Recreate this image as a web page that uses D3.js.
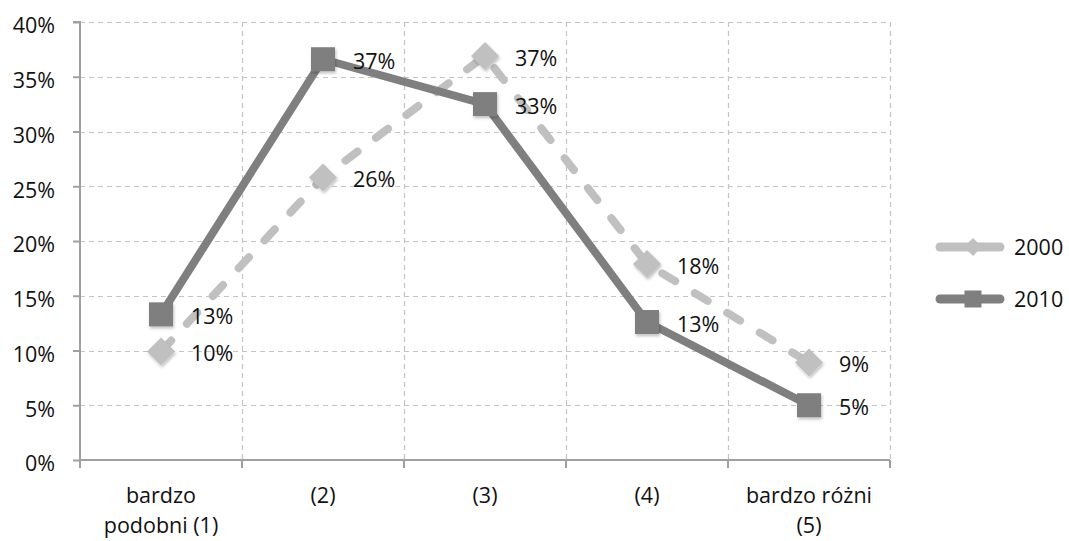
<!DOCTYPE html>
<html>
<head>
<meta charset="utf-8">
<script src="https://cdn.jsdelivr.net/npm/d3@7"></script>
<style>
  html, body { margin: 0; padding: 0; background: #fff; }
  svg { display: block; }
  text { font-family: "Open Sans", "Noto Sans", sans-serif; fill: #111; }
</style>
</head>
<body>
<svg id="chart" width="1069" height="541"></svg>
<script>
// Categories on the x axis (multi-line labels split by "\n")
const categories = ["bardzo\npodobni (1)", "(2)", "(3)", "(4)", "bardzo różni\n(5)"];
// Share of answers per category
const values2000 = [0.099, 0.258, 0.369, 0.179, 0.089];
const values2010 = [0.133, 0.366, 0.325, 0.126, 0.050];
const seriesNames = ["2000", "2010"];
const yTicks = [0, 0.05, 0.10, 0.15, 0.20, 0.25, 0.30, 0.35, 0.40];

const svg = d3.select("#chart");
const plot = { left: 80, right: 890, top: 22, bottom: 460 };
const fontSize = "21.5px";

const x = d3.scaleBand().domain(d3.range(categories.length))
  .range([plot.left, plot.right]).paddingInner(0).paddingOuter(0);
const y = d3.scaleLinear().domain([0, 0.40]).range([plot.bottom, plot.top]);
const pct = d3.format(".0%");

const defs = svg.append("defs");
const f = defs.append("filter").attr("id", "shadow")
  .attr("x", "-50%").attr("y", "-50%").attr("width", "200%").attr("height", "200%");
f.append("feDropShadow").attr("dx", 1).attr("dy", 2).attr("stdDeviation", 1.5)
  .attr("flood-color", "#000").attr("flood-opacity", 0.25);

// Horizontal dashed gridlines
svg.append("g").selectAll("line").data(yTicks.filter(d => d > 0)).join("line")
  .attr("x1", plot.left).attr("x2", plot.right)
  .attr("y1", d => Math.round(y(d)) + 0.5).attr("y2", d => Math.round(y(d)) + 0.5)
  .attr("stroke", "#c4c4c4").attr("stroke-width", 1.2).attr("stroke-dasharray", "5,4");

// Vertical dashed gridlines at category boundaries
const bounds = d3.range(1, categories.length + 1).map(i => plot.left + i * x.bandwidth());
svg.append("g").selectAll("line").data(bounds).join("line")
  .attr("x1", d => Math.round(d) + 0.5).attr("x2", d => Math.round(d) + 0.5)
  .attr("y1", plot.top).attr("y2", plot.bottom)
  .attr("stroke", "#c4c4c4").attr("stroke-width", 1.2).attr("stroke-dasharray", "5,4");

// Y axis
const yAxis = svg.append("g").attr("transform", `translate(${plot.left},0)`)
  .call(d3.axisLeft(y).tickValues(yTicks).tickFormat(pct).tickSize(7).tickPadding(18));
yAxis.select(".domain").attr("stroke", "#a0a0a0").attr("stroke-width", 2)
  .attr("d", `M-7,${plot.top}H0V${plot.bottom}`);
yAxis.selectAll(".tick line").attr("stroke", "#a0a0a0").attr("stroke-width", 2);
yAxis.selectAll(".tick text").style("font-size", fontSize).attr("fill", "#111")
  .attr("y", 3).attr("dy", "0.36em");

// X axis
const xAxisG = svg.append("g").attr("transform", `translate(0,${plot.bottom})`);
xAxisG.append("line").attr("x1", plot.left).attr("x2", plot.right).attr("y1", 0).attr("y2", 0)
  .attr("stroke", "#a0a0a0").attr("stroke-width", 2);
xAxisG.selectAll("line.tk").data([plot.left, ...bounds]).join("line").attr("class", "tk")
  .attr("x1", d => d).attr("x2", d => d).attr("y1", 0).attr("y2", 8)
  .attr("stroke", "#a0a0a0").attr("stroke-width", 2);
const xl = xAxisG.selectAll("text").data(categories).join("text")
  .attr("text-anchor", "middle").style("font-size", fontSize)
  .attr("transform", (d, i) => `translate(${x(i) + x.bandwidth() / 2},43)`);
xl.selectAll("tspan").data(d => d.split("\n")).join("tspan")
  .attr("x", 0).attr("dy", (d, i) => i === 0 ? 0 : 30).text(d => d);

const cx = i => x(i) + x.bandwidth() / 2;
const line = d3.line().x((d, i) => cx(i)).y(d => y(d));

const series = [
  { name: seriesNames[0], values: values2000, color: "#c0c0c0", dash: "15,23", marker: "diamond" },
  { name: seriesNames[1], values: values2010, color: "#7f7f7f", dash: null, marker: "square" }
];

function drawMarker(g, type, color) {
  if (type === "square") {
    g.append("rect").attr("x", -12).attr("y", -12).attr("width", 24).attr("height", 24)
      .attr("fill", color);
  } else {
    g.append("path").attr("d", "M0,-14L14,0L0,14L-14,0Z").attr("fill", color);
  }
}

series.forEach(s => {
  svg.append("path").datum(s.values).attr("d", line)
    .attr("fill", "none").attr("stroke", s.color).attr("stroke-width", 8)
    .attr("stroke-linecap", s.dash ? "round" : "butt").attr("stroke-linejoin", "round")
    .attr("stroke-dasharray", s.dash);
  const m = svg.append("g").selectAll("g").data(s.values).join("g")
    .attr("transform", (d, i) => `translate(${cx(i)},${y(d)})`)
    .attr("filter", "url(#shadow)");
  m.each(function () { drawMarker(d3.select(this), s.marker, s.color); });
});

// Value labels, right of each point
series.forEach(s => {
  svg.append("g").selectAll("text").data(s.values).join("text")
    .attr("x", (d, i) => cx(i) + 30).attr("y", d => y(d) + 2)
    .attr("dy", "0.36em").style("font-size", fontSize).text(d => pct(d));
});

// Legend
const lg = svg.append("g");
series.forEach((s, k) => {
  const gy = 247 + k * 52;
  const g = lg.append("g").attr("transform", `translate(0,${gy})`);
  g.append("line").attr("x1", 940).attr("x2", 1000).attr("y1", 0).attr("y2", 0)
    .attr("stroke", s.color).attr("stroke-width", 9).attr("stroke-linecap", "round");
  const mg = g.append("g").attr("transform", "translate(973,0)");
  if (s.marker === "square") {
    mg.append("rect").attr("x", -8.5).attr("y", -8.5).attr("width", 17).attr("height", 17).attr("fill", s.color);
  } else {
    mg.append("path").attr("d", "M0,-9L9,0L0,9L-9,0Z").attr("fill", s.color);
  }
  g.append("text").attr("x", 1014).attr("y", 0).attr("dy", "0.36em")
    .style("font-size", fontSize).text(s.name);
});
</script>
</body>
</html>
